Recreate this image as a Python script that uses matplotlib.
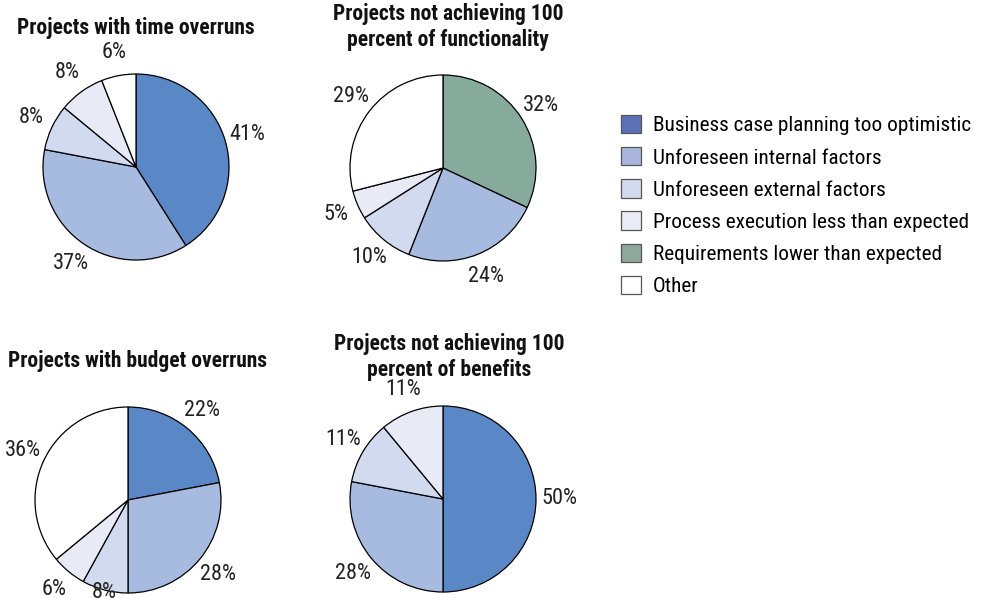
import matplotlib
matplotlib.use("Agg")
import matplotlib.pyplot as plt
from matplotlib.patches import Patch

plt.rcParams['font.family'] = ['Roboto Condensed', 'DejaVu Sans']

# categories and their colours (pie / legend swatch)
categories = ['Business case planning too optimistic', 'Unforeseen internal factors',
              'Unforeseen external factors', 'Process execution less than expected',
              'Requirements lower than expected', 'Other']
pie_colors = ['#5a88c6', '#a7bae0', '#d1daee', '#e8ebf6', '#86aa9b', '#ffffff']
legend_colors = ['#5b70b7', '#a9b5dc', '#d3d9ee', '#e9ebf5', '#8fa89c', '#ffffff']

# each pie: title, category index per slice, values in %
time_title = 'Projects with time overruns'
time_cats = [0, 1, 2, 3, 5]
time_vals = [41, 37, 8, 8, 6]

func_title = 'Projects not achieving 100\npercent of functionality'
func_cats = [4, 1, 2, 3, 5]
func_vals = [32, 24, 10, 5, 29]

budget_title = 'Projects with budget overruns'
budget_cats = [0, 1, 2, 3, 5]
budget_vals = [22, 28, 8, 6, 36]

benefit_title = 'Projects not achieving 100\npercent of benefits'
benefit_cats = [0, 1, 2, 3]
benefit_vals = [50, 28, 11, 11]

W, H = 990, 598
fig = plt.figure(figsize=(W / 100, H / 100), dpi=100)
R = 93  # pie radius in px
LABEL_FS = 16


def add_pie(cx, cy, cats, vals, title, title_y, title_x=None, close=None):
    half = 150
    ax = fig.add_axes([(cx - half) / W, (H - cy - half) / H, 2 * half / W, 2 * half / H])
    wedges, texts, autotexts = ax.pie(
        vals, colors=[pie_colors[c] for c in cats], startangle=90, counterclock=False,
        autopct=lambda p: f'{p:.0f}%', pctdistance=1.25,
        wedgeprops=dict(edgecolor='black', linewidth=0.9),
        textprops=dict(fontsize=LABEL_FS, color='#222222'))
    ax.set_xlim(-half / R, half / R)
    ax.set_ylim(-half / R, half / R)
    ax.axis('off')
    for w in wedges:
        w.set_clip_on(False)
    for t in autotexts:
        t.set_clip_on(False)
    # a crowded label sits nearer the rim
    if close is not None:
        i, f = close
        x, y = autotexts[i].get_position()
        autotexts[i].set_position((x * f, y * f))
    tx = cx if title_x is None else title_x
    fig.text(tx / W, 1 - title_y / H, title, ha='center', va='center',
             fontsize=15.5, fontweight='bold', linespacing=1.2, color='#111111')
    return ax


add_pie(136, 167, time_cats, time_vals, time_title, 28)
add_pie(443, 168, func_cats, func_vals, func_title, 27, title_x=448)
add_pie(128, 500, budget_cats, budget_vals, budget_title, 361, title_x=137, close=(2, 0.82))
add_pie(443, 499, benefit_cats, benefit_vals, benefit_title, 357, title_x=449)

handles = [Patch(facecolor=c, edgecolor='#555555', linewidth=0.9) for c in legend_colors]
fig.legend(handles, categories, loc='upper left', bbox_to_anchor=(621 / W, 1 - 115 / H),
           frameon=False, fontsize=15.3, handlelength=0.95, handleheight=0.95,
           handletextpad=0.55, labelspacing=0.55, borderpad=0, borderaxespad=0)

fig.savefig('out.png', dpi=100, facecolor='white')
